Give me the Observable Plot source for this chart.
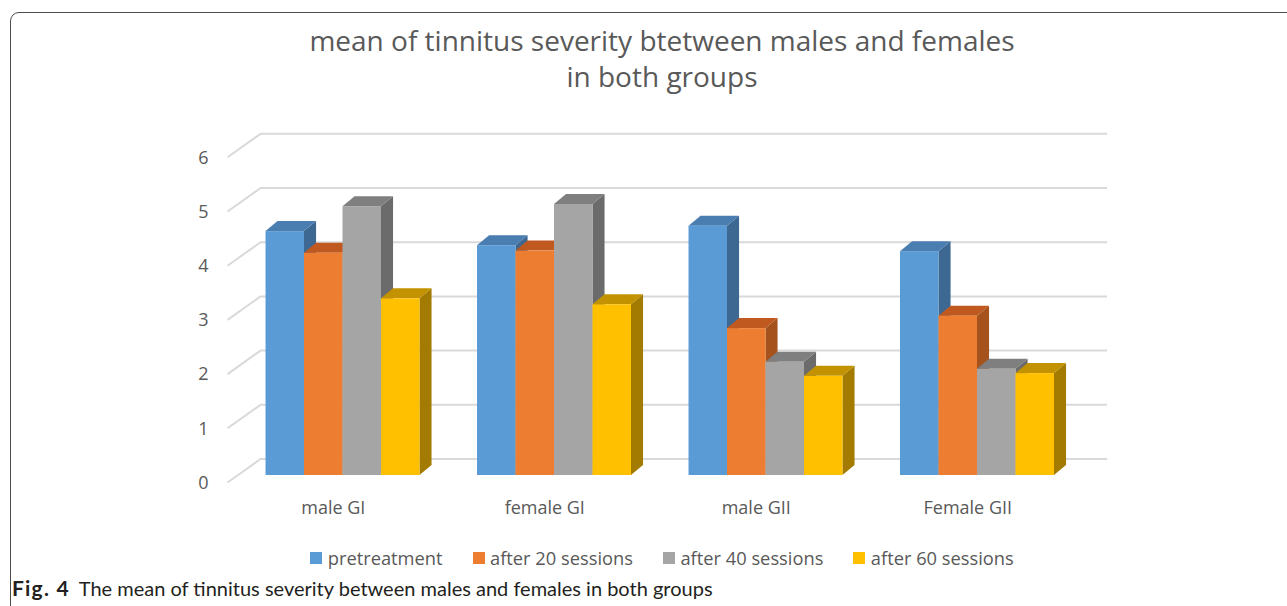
<!DOCTYPE html>
<html>
<head>
<meta charset="utf-8">
<script src="https://cdn.jsdelivr.net/npm/d3@7"></script>
<script src="https://cdn.jsdelivr.net/npm/@observablehq/plot@0.6"></script>
<style>
  html, body { margin: 0; padding: 0; background: #fff; }
  body { width: 1287px; height: 606px; overflow: hidden; position: relative; }
  #frame { position: absolute; left: 10px; top: 12px; width: 1400px; height: 700px;
           border: 1.5px solid #4d4d4d; border-radius: 9px; box-sizing: border-box; }
  #title { position: absolute; left: 0; top: 22px; width: 1324px; text-align: center;
           font-family: "Open Sans", sans-serif; font-size: 28px; line-height: 36px; color: #595959; }
  #chart { position: absolute; left: 0; top: 100px; }
  #legend { position: absolute; left: 0; top: 546px; width: 1324px; display: flex; justify-content: center;
            gap: 30px; font-family: "Open Sans", sans-serif; font-size: 18.3px; color: #595959; line-height: 24px; }
  #legend .item { display: flex; align-items: center; }
  #legend .sw { width: 12px; height: 12px; margin-right: 5.5px; }
  #caption { position: absolute; left: 12px; top: 575px; font-family: Lato, sans-serif; font-size: 20px;
             color: #231f20; line-height: 26px; white-space: nowrap; }
  #caption b { font-weight: 700; font-size: 21px; letter-spacing: 1.2px; margin-right: 9px; }
</style>
</head>
<body>
<div id="frame"></div>
<div id="title">mean of tinnitus severity btetween males and females<br>in both groups</div>
<div id="chart"></div>
<div id="legend"></div>
<div id="caption"><b>Fig. 4</b>The mean of tinnitus severity between males and females in both groups</div>
<script>
// ---- data ----
const categories = ["male GI", "female GI", "male GII", "Female GII"];
const series = ["pretreatment", "after 20 sessions", "after 40 sessions", "after 60 sessions"];
const pretreatment = [4.5, 4.24, 4.6, 4.13];
const after20 = [4.1, 4.14, 2.71, 2.94];
const after40 = [4.96, 5.0, 2.09, 1.96];
const after60 = [3.26, 3.15, 1.83, 1.88];
const yTicks = [0, 1, 2, 3, 4, 5, 6];

// ---- styles ----
const frontColors = ["#5b9bd5", "#ed7d31", "#a5a5a5", "#ffc000"];
const topColors = ["#4a7db0", "#c0591f", "#7f7f7f", "#c39200"];
const sideColors = ["#3d6891", "#a5521c", "#6b6b6b", "#a37b00"];
const gridColor = "#d9d9d9";

// geometry in data units
const W = 0.182;        // bar width (x units)
const ddx = 0.057;      // bar depth, x
const ddy = 0.185;      // bar depth, y
const backDx = 0.11, backDy = 0.304;   // back wall offset
const frontDx = -0.046, frontDy = -0.129; // front plane offset
const backLeft = -0.39, backRight = 3.615;
const frontLeft = backLeft - (backDx - frontDx);

const valuesBySeries = [pretreatment, after20, after40, after60];
const bars = [];
categories.forEach((c, g) => {
  series.forEach((name, s) => {
    const v = valuesBySeries[s][g];
    const x1 = g + (s - 2) * W;
    bars.push({id: g * 4 + s, g, s, v, x1, x2: x1 + W});
  });
});
const sides = bars.flatMap(b => [
  {id: b.id, s: b.s, x: b.x2, y1: 0, y2: b.v},
  {id: b.id, s: b.s, x: b.x2 + ddx, y1: ddy, y2: b.v + ddy}
]);
const tops = bars.flatMap(b => [
  {id: b.id, s: b.s, x: b.x1, y1: b.v, y2: b.v},
  {id: b.id, s: b.s, x: b.x1 + ddx, y1: b.v, y2: b.v + ddy},
  {id: b.id, s: b.s, x: b.x2, y1: b.v, y2: b.v + ddy},
  {id: b.id, s: b.s, x: b.x2 + ddx, y1: b.v + ddy, y2: b.v + ddy}
]);

const plot = Plot.plot({
  width: 1287,
  height: 430,
  x: {domain: [0, 3], range: [342.5, 977], axis: null},
  y: {domain: [0, 6], range: [375, 49.8], axis: null},
  color: {type: "identity"},
  style: {fontFamily: "'Open Sans', sans-serif", fontSize: "18px", color: "#595959", background: "transparent", overflow: "visible"},
  marks: [
    Plot.ruleY(yTicks, {y: d => d + backDy, x1: backLeft, x2: backRight, stroke: gridColor, strokeWidth: 2}),
    Plot.link(yTicks, {x1: frontLeft, y1: d => d + frontDy, x2: backLeft, y2: d => d + backDy, stroke: gridColor, strokeWidth: 2}),
    Plot.text(yTicks, {x: -0.66, y: d => d, dy: 7.5, text: d => String(d), fill: "#595959", fontSize: 18}),
    Plot.text(categories, {x: (d, i) => i + frontDx, y: 0, dy: 33, text: d => d, fill: "#595959", fontSize: 18}),
    Plot.areaY(sides, {x: "x", y1: "y1", y2: "y2", z: "id", fill: d => sideColors[d.s]}),
    Plot.areaY(tops, {x: "x", y1: "y1", y2: "y2", z: "id", fill: d => topColors[d.s]}),
    Plot.rectY(bars, {x1: "x1", x2: "x2", y1: 0, y2: "v", fill: d => frontColors[d.s], inset: 0})
  ]
});
document.getElementById("chart").appendChild(plot);

const legend = document.getElementById("legend");
series.forEach((name, i) => {
  const item = document.createElement("div");
  item.className = "item";
  const sw = document.createElement("span");
  sw.className = "sw";
  sw.style.background = frontColors[i];
  const t = document.createElement("span");
  t.textContent = name;
  item.appendChild(sw);
  item.appendChild(t);
  legend.appendChild(item);
});
</script>
</body>
</html>
